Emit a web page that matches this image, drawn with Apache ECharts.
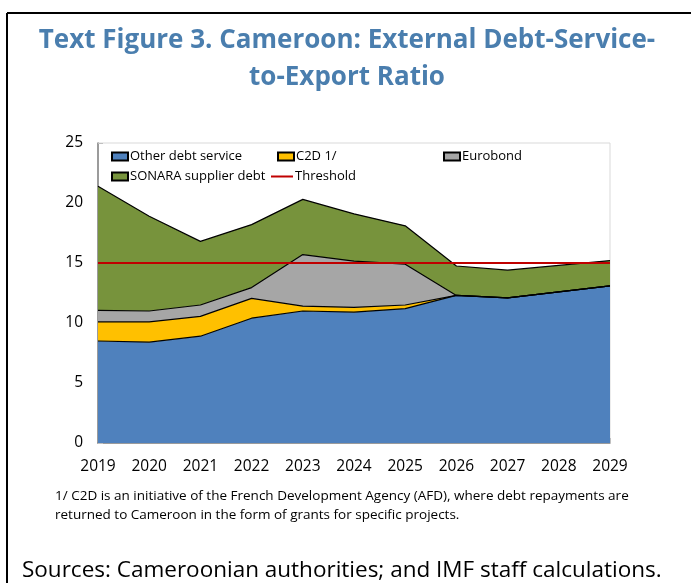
<!DOCTYPE html>
<html><head><meta charset="utf-8">
<script src="https://cdn.jsdelivr.net/npm/echarts@6/dist/echarts.min.js"></script>
<style>html,body{margin:0;padding:0;background:#fff}#c{width:691px;height:583px}</style>
</head><body><div id="c"></div>
<script>
const years = ['2019','2020','2021','2022','2023','2024','2025','2026','2027','2028','2029'];
const otherDebt = [8.5, 8.4, 8.9, 10.4, 11.0, 10.9, 11.2, 12.3, 12.1, 12.6, 13.1];
const c2d = [1.6, 1.7, 1.65, 1.65, 0.4, 0.4, 0.3, 0, 0, 0, 0];
const eurobond = [0.95, 0.9, 0.95, 0.9, 4.3, 3.85, 3.4, 0, 0, 0, 0];
const sonara = [10.35, 7.9, 5.3, 5.25, 4.6, 3.95, 3.2, 2.45, 2.3, 2.2, 2.1];
const threshold = [15, 15, 15, 15, 15, 15, 15, 15, 15, 15, 15];
const yTicks = [0, 5, 10, 15, 20, 25];

const FONT = '"Open Sans", "Noto Sans", sans-serif';
const chart = echarts.init(document.getElementById('c'), null, {renderer:'canvas'});

function area(name, data, color){
  return {name, type:'line', stack:'t', data, symbol:'none', smooth:false,
    lineStyle:{color:'#000', width:1.2}, itemStyle:{color, borderColor:'#000', borderWidth:1},
    areaStyle:{color, opacity:1}, emphasis:{disabled:true}, z:2};
}
function leg(name, left, top, line){
  const o = {data:[{name, icon:'rect'}], left, top, itemWidth:16, itemHeight:8, itemGap:2,
    textStyle:{fontFamily:FONT, fontSize:13, color:'#000', padding:[0,0,0,-3]}, selectedMode:false, padding:0};
  if(line) { o.itemWidth = 22; o.itemHeight = 2; }
  return o;
}

chart.setOption({
  animation:false,
  backgroundColor:'#fff',
  grid:{left:98, top:143, width:512, height:300, show:true, borderColor:'#D9D9D9', borderWidth:1, containLabel:false},
  legend:[
    leg('Other debt service', 111, 150),
    leg('C2D 1/', 277, 150),
    leg('Eurobond', 443, 150),
    leg('SONARA supplier debt', 111, 170),
    leg('Threshold', 271, 170, true)
  ],
  xAxis:{type:'category', data:years, boundaryGap:false,
    axisLine:{lineStyle:{color:'#808080', width:1.5}},
    axisTick:{inside:true, length:5, lineStyle:{color:'#BFBFBF'}},
    axisLabel:{fontFamily:FONT, fontSize:15.5, color:'#000', margin:16}},
  yAxis:{type:'value', min:0, max:25, interval:5,
    axisLine:{show:true, lineStyle:{color:'#808080', width:1.5}},
    axisTick:{show:true, inside:true, length:5, lineStyle:{color:'#BFBFBF'}},
    splitLine:{show:false},
    axisLabel:{fontFamily:FONT, fontSize:15.5, color:'#000', margin:15,
      formatter:v=> yTicks.includes(v) ? String(v) : ''}},
  series:[
    area('Other debt service', otherDebt, '#4F81BD'),
    area('C2D 1/', c2d, '#FFC000'),
    area('Eurobond', eurobond, '#A6A6A6'),
    area('SONARA supplier debt', sonara, '#77933C'),
    {name:'Threshold', type:'line', data:threshold, symbol:'none', z:5,
      lineStyle:{color:'#C00000', width:2}, itemStyle:{color:'#C00000'}, emphasis:{disabled:true}}
  ],
  graphic:[
    {type:'line', shape:{x1:7, y1:13, x2:691, y2:13}, style:{stroke:'#000', lineWidth:2}},
    {type:'line', shape:{x1:7, y1:13, x2:7, y2:583}, style:{stroke:'#000', lineWidth:2}},
    {type:'text', x:347, y:22, style:{text:'Text Figure 3. Cameroon: External Debt-Service-\nto-Export Ratio',
      font:'bold 26px '+FONT, fill:'#4A7EAE', align:'center', lineHeight:37}},
    {type:'text', x:55, y:487, style:{text:'1/ C2D is an initiative of the French Development Agency (AFD), where debt repayments are\nreturned to Cameroon in the form of grants for specific projects.',
      font:'13.5px '+FONT, fill:'#000', lineHeight:19}},
    {type:'text', x:22, y:559, style:{text:'Sources: Cameroonian authorities; and IMF staff calculations.',
      font:'22.5px '+FONT, fill:'#000'}}
  ]
});
</script></body></html>
